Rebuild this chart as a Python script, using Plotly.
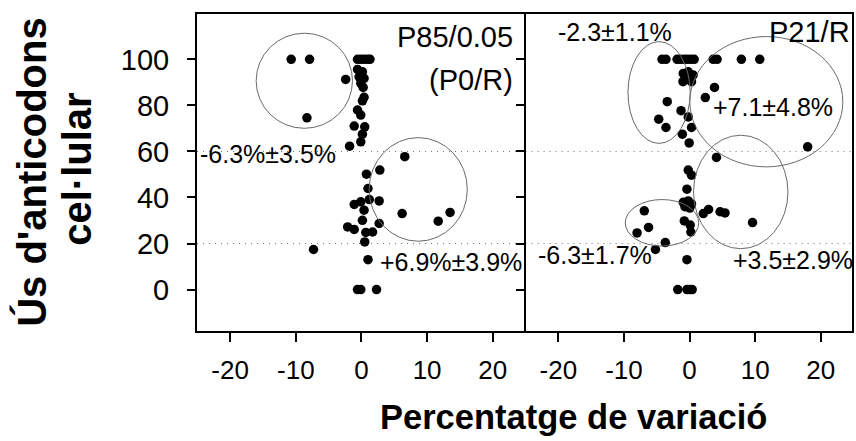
import plotly.graph_objects as go

# ---------------- data ----------------
# Left panel: P85/0.05 (P0/R)
left_x = [-10.7, -7.9, -2.4, -8.3,
          -0.6, -0.1, 0.4, 0.9, 1.3,
          -0.6, 0.15, -0.35, 0.4, -0.1, 0.26, 0.4, 0.15, -0.6, -0.1,
          -1.1, 0.5, 0.15, -0.1, -1.8,
          6.6, 2.8, 0.76, 1.0, 1.2, -0.1, -1.1, 2.7, 0.4, 6.2, 13.5, 11.7,
          0.15, 2.7, -2.1, -1.1, 0.67, 1.7, 0.5, -7.3, 1.0, -0.6, -0.1, 2.3]
left_y = [100, 100, 91.3, 74.6,
          100, 100, 100, 100, 100,
          95.6, 94.6, 92.4, 91.7, 89.6, 87.8, 83.5, 82.0, 78.0, 75.8,
          71.0, 70.7, 67.5, 64.2, 62.3,
          57.7, 51.9, 50.1, 43.9, 39.1, 38.1, 37.0, 38.5, 34.5, 33.0, 33.5, 29.7,
          30.1, 28.7, 27.2, 26.1, 24.8, 25.0, 20.7, 17.4, 13.0, 0, 0, 0]

# Right panel: P21/R
right_x = [-4.2, -3.6, -1.9, -1.4, -0.8, -0.3, 0.2, 0.7, 3.6, 4.2, 7.9, 10.7,
           -0.96, -0.2, 0.55, -0.7, 0.04, -1.0, 0.3, -0.45,
           3.8, 2.4, -3.4, -1.3, -0.2, -4.7, -3.6, 0.3, -1.1, -0.06, 18.0, 4.1,
           -0.2, 0.3, -0.4,
           -0.96, -0.2, 0.3, -0.7, 0.04,
           2.1, 2.9, 4.65, 5.4, 9.6, -6.9, -6.25, -8.0, -3.7, -5.2,
           -0.8, 0.1, 0.2, -0.4, -1.8, -0.4, 0.04, 0.4]
right_y = [100, 100, 100, 100, 100, 100, 100, 100, 100, 100, 100, 100,
           93.9, 94.6, 93.2, 91.7, 91.0, 90.3, 90.3, 92.4,
           87.8, 83.4, 81.6, 77.7, 75.0, 74.0, 70.4, 70.4, 67.5, 63.7, 62.0, 57.4,
           51.9, 49.7, 43.6,
           37.9, 38.5, 37.2, 36.0, 35.4,
           33.0, 34.8, 33.8, 33.3, 29.1, 34.2, 27.0, 24.6, 20.4, 17.4,
           29.8, 28.0, 25.0, 13.0, 0, 0, 0, 0]

# Cluster ellipses: centre x, centre y, half-width, half-height
left_ell_cx = [-8.7, 8.65]
left_ell_cy = [90.7, 43.5]
left_ell_rx = [7.34, 7.48]
left_ell_ry = [20.65, 22.5]

right_ell_cx = [-4.65, 11.7, 7.8, -4.2]
right_ell_cy = [85.6, 81.6, 42.4, 29.0]
right_ell_rx = [4.74, 11.66, 7.2, 5.6]
right_ell_ry = [22.1, 28.3, 24.65, 10.1]

ref_levels = [60, 20]

x_ticks = [-20, -10, 0, 10, 20]
x_tick_text = ["-20", "-10", "0", "10", "20"]
y_ticks = [0, 20, 40, 60, 80, 100]
y_tick_text = ["0", "20", "40", "60", "80", "100"]

left_labels = ["P85/0.05", "(P0/R)", "-6.3%±3.5%", "+6.9%±3.9%"]
left_label_x = [23.2, 23.2, -24.7, 2.6]
left_label_y = [109.6, 91.0, 59.1, 12.0]
left_label_anchor = ["right", "right", "left", "left"]
left_label_size = [29, 29, 25, 25]

right_labels = ["-2.3±1.1%", "P21/R", "+7.1±4.8%", "-6.3±1.7%", "+3.5±2.9%"]
right_label_x = [-20.2, 24.6, 3.4, -23.2, 6.4]
right_label_y = [112.0, 112.0, 79.4, 14.9, 12.7]
right_label_anchor = ["left", "right", "left", "left", "left"]
right_label_size = [25, 29, 25, 25, 25]

FONT = "Liberation Sans, Arial, sans-serif"

# ---------------- figure ----------------
fig = go.Figure()
marker = dict(color="black", size=9.5, line=dict(width=0))
fig.add_trace(go.Scatter(x=left_x, y=left_y, mode="markers", marker=marker,
                         xaxis="x", yaxis="y", showlegend=False, cliponaxis=False))
fig.add_trace(go.Scatter(x=right_x, y=right_y, mode="markers", marker=marker,
                         xaxis="x2", yaxis="y2", showlegend=False, cliponaxis=False))

shapes = []
for xr, yr in (("x", "y"), ("x2", "y2")):
    for lvl in ref_levels:
        shapes.append(dict(type="line", xref=xr + " domain", yref=yr,
                           x0=0, x1=1, y0=lvl, y1=lvl,
                           line=dict(color="#707070", width=1, dash="1px,5px"),
                           layer="below"))
ell_line = dict(color="#6a6a6a", width=1)
for cx, cy, rx, ry in zip(left_ell_cx, left_ell_cy, left_ell_rx, left_ell_ry):
    shapes.append(dict(type="circle", xref="x", yref="y",
                       x0=cx - rx, x1=cx + rx, y0=cy - ry, y1=cy + ry, line=ell_line))
for cx, cy, rx, ry in zip(right_ell_cx, right_ell_cy, right_ell_rx, right_ell_ry):
    shapes.append(dict(type="circle", xref="x2", yref="y2",
                       x0=cx - rx, x1=cx + rx, y0=cy - ry, y1=cy + ry, line=ell_line))

annotations = []
for t, x, y, a, s in zip(left_labels, left_label_x, left_label_y, left_label_anchor, left_label_size):
    annotations.append(dict(text=t, x=x, y=y, xref="x", yref="y", xanchor=a, yanchor="middle",
                            showarrow=False, borderpad=0, font=dict(family=FONT, size=s, color="black")))
for t, x, y, a, s in zip(right_labels, right_label_x, right_label_y, right_label_anchor, right_label_size):
    annotations.append(dict(text=t, x=x, y=y, xref="x2", yref="y2", xanchor=a, yanchor="middle",
                            showarrow=False, borderpad=0, font=dict(family=FONT, size=s, color="black")))

# axis titles
annotations.append(dict(text="<b>Ús d'anticodons</b>", x=-0.253, y=0.503, xref="paper", yref="paper",
                        textangle=-90, showarrow=False, xanchor="center", yanchor="middle", borderpad=0,
                        font=dict(family=FONT, size=40, color="black")))
annotations.append(dict(text="<b>cel·lular</b>", x=-0.183, y=0.509, xref="paper", yref="paper",
                        textangle=-90, showarrow=False, xanchor="center", yanchor="middle", borderpad=0,
                        font=dict(family=FONT, size=40, color="black")))
annotations.append(dict(text="<b>Percentatge de variació</b>", x=0.5744, y=-0.2713, xref="paper", yref="paper",
                        showarrow=False, xanchor="center", yanchor="middle", borderpad=0,
                        font=dict(family=FONT, size=34.5, color="black")))

common_x = dict(tickvals=x_ticks, ticktext=x_tick_text, ticks="outside", ticklen=9, tickwidth=2,
                tickcolor="black", showline=True, linewidth=2, linecolor="black", mirror=True,
                showgrid=False, zeroline=False, ticklabelstandoff=6,
                tickfont=dict(family=FONT, size=26, color="black"))
common_y = dict(tickvals=y_ticks, ticktext=y_tick_text, range=[-18, 119.7], ticks="outside",
                ticklen=8, tickwidth=2, tickcolor="black", showline=True, linewidth=2,
                linecolor="black", showgrid=False, zeroline=False, domain=[0, 1])

fig.update_layout(
    width=856, height=441,
    margin=dict(l=197, r=2, t=14, b=110),
    paper_bgcolor="white", plot_bgcolor="white",
    xaxis=dict(domain=[0, 0.5016], range=[-25.05, 25.0], anchor="y", **common_x),
    xaxis2=dict(domain=[0.5016, 1], range=[-25.0, 24.76], anchor="y2", **common_x),
    yaxis=dict(anchor="x", mirror=False, ticklabelstandoff=12,
               tickfont=dict(family=FONT, size=29, color="black"), **common_y),
    yaxis2=dict(anchor="x2", mirror=True, showticklabels=False, **common_y),
    shapes=shapes,
    annotations=annotations,
    font=dict(family=FONT, color="black"),
)

fig.write_html("out.html")
